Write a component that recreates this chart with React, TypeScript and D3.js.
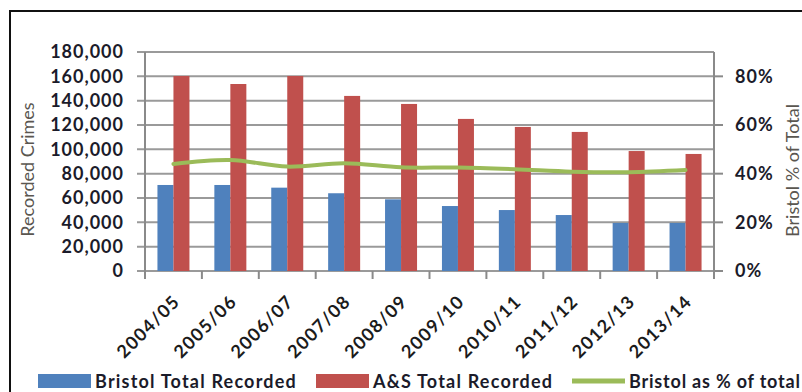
import React, { useEffect, useRef } from "react";
import * as d3 from "d3";

const years = [
  "2004/05", "2005/06", "2006/07", "2007/08", "2008/09",
  "2009/10", "2010/11", "2011/12", "2012/13", "2013/14",
];
const bristolTotal = [70700, 70700, 68500, 63900, 58900, 53400, 50100, 46000, 39500, 39500];
const asTotal = [160300, 153700, 160300, 143900, 137300, 125000, 118400, 114300, 98600, 96200];
const bristolPct = [0.44, 0.456, 0.429, 0.443, 0.426, 0.425, 0.418, 0.408, 0.406, 0.415];
const leftTicks = [0, 20000, 40000, 60000, 80000, 100000, 120000, 140000, 160000, 180000];
const rightTicks = [0, 0.2, 0.4, 0.6, 0.8];
const legendLabels = ["Bristol Total Recorded", "A&S Total Recorded", "Bristol as % of total"];

const BLUE = "#4f81bd";
const RED = "#c0504d";
const GREEN = "#9bbb59";
const FONT = "Lato, 'Open Sans', sans-serif";

const App: React.FC = () => {
  const svgRef = useRef<SVGSVGElement | null>(null);

  useEffect(() => {
    if (!svgRef.current) return;
    const width = 802;
    const height = 392;
    const m = { left: 145, right: 714, top: 52, bottom: 271 };

    d3.select(svgRef.current).selectAll("*").remove();
    const svg = d3.select(svgRef.current).attr("width", width).attr("height", height);

    // frame (runs off the right / bottom like the source)
    svg.append("rect")
      .attr("x", 10).attr("y", 11)
      .attr("width", 820).attr("height", 420)
      .attr("fill", "#fff").attr("stroke", "#111").attr("stroke-width", 2);

    const x = d3.scaleBand<string>().domain(years).range([m.left, m.right]);
    const y = d3.scaleLinear().domain([0, 180000]).range([m.bottom, m.top]);
    const y2 = d3.scaleLinear().domain([0, 0.9]).range([m.bottom, m.top]);

    /* grid */
    svg.append("g")
      .selectAll("line")
      .data(leftTicks)
      .enter()
      .append("line")
      .attr("x1", m.left - 8).attr("x2", m.right)
      .attr("y1", (d) => y(d)).attr("y2", (d) => y(d))
      .attr("stroke", "#9a9a9a").attr("stroke-width", 2);

    // axis lines
    [m.left, m.right].forEach((xx) => {
      svg.append("line")
        .attr("x1", xx).attr("x2", xx)
        .attr("y1", m.top).attr("y2", m.bottom)
        .attr("stroke", "#8a8a8a").attr("stroke-width", 2);
    });

    // category tick marks
    const bounds = years.map((yr) => x(yr)!).concat([m.right]);
    svg.append("g")
      .selectAll("line")
      .data(bounds)
      .enter()
      .append("line")
      .attr("x1", (d) => d).attr("x2", (d) => d)
      .attr("y1", m.bottom).attr("y2", m.bottom + 8)
      .attr("stroke", "#8a8a8a").attr("stroke-width", 2);

    // right tick marks
    svg.append("g")
      .selectAll("line")
      .data(rightTicks)
      .enter()
      .append("line")
      .attr("x1", m.right).attr("x2", m.right + 9)
      .attr("y1", (d) => y2(d)).attr("y2", (d) => y2(d))
      .attr("stroke", "#8a8a8a").attr("stroke-width", 2);

    /* bars */
    const bw = 16;
    const center = (yr: string) => x(yr)! + x.bandwidth() / 2;
    svg.append("g")
      .selectAll("rect")
      .data(years)
      .enter()
      .append("rect")
      .attr("x", (d) => center(d) - bw)
      .attr("y", (_, i) => y(bristolTotal[i]))
      .attr("width", bw)
      .attr("height", (_, i) => m.bottom - y(bristolTotal[i]))
      .attr("fill", BLUE);
    svg.append("g")
      .selectAll("rect")
      .data(years)
      .enter()
      .append("rect")
      .attr("x", (d) => center(d))
      .attr("y", (_, i) => y(asTotal[i]))
      .attr("width", bw)
      .attr("height", (_, i) => m.bottom - y(asTotal[i]))
      .attr("fill", RED);

    /* line */
    const line = d3
      .line<number>()
      .x((_, i) => center(years[i]))
      .y((d) => y2(d))
      .curve(d3.curveCatmullRom.alpha(0.5));
    svg.append("path")
      .attr("d", line(bristolPct))
      .attr("fill", "none")
      .attr("stroke", GREEN)
      .attr("stroke-width", 4)
      .attr("stroke-linecap", "round");

    /* tick labels */
    svg.append("g")
      .selectAll("text")
      .data(leftTicks)
      .enter()
      .append("text")
      .attr("x", 124).attr("y", (d) => y(d))
      .attr("dy", "0.36em")
      .attr("text-anchor", "end")
      .attr("font-family", FONT).attr("font-weight", "bold").attr("font-size", 18)
      .attr("letter-spacing", 1)
      .attr("fill", "#1b1b2a")
      .text((d) => d3.format(",")(d));

    svg.append("g")
      .selectAll("text")
      .data(rightTicks)
      .enter()
      .append("text")
      .attr("x", 735).attr("y", (d) => y2(d))
      .attr("dy", "0.36em")
      .attr("font-family", FONT).attr("font-weight", "bold").attr("font-size", 18)
      .attr("letter-spacing", 1)
      .attr("fill", "#1b1b2a")
      .text((d) => d3.format(".0%")(d));

    svg.append("g")
      .selectAll("text")
      .data(years)
      .enter()
      .append("text")
      .attr("transform", (d) => `translate(${center(d) + 3},${m.bottom + 27}) rotate(-45)`)
      .attr("text-anchor", "end")
      .attr("dy", "0.36em")
      .attr("font-family", FONT).attr("font-weight", "bold").attr("font-size", 18)
      .attr("letter-spacing", 1.3)
      .attr("fill", "#1b1b1b")
      .text((d) => d);

    // axis titles
    svg.append("text")
      .attr("transform", `translate(28,${(m.top + m.bottom) / 2 + 8}) rotate(-90)`)
      .attr("text-anchor", "middle").attr("dy", "0.36em")
      .attr("font-family", FONT).attr("font-size", 18)
      .attr("fill", "#5a5650")
      .text("Recorded Crimes");
    svg.append("text")
      .attr("transform", `translate(793,${(m.top + m.bottom) / 2 + 9}) rotate(-90)`)
      .attr("text-anchor", "middle").attr("dy", "0.36em")
      .attr("font-family", FONT).attr("font-size", 18)
      .attr("fill", "#5a5650")
      .text("Bristol % of Total");

    /* legend */
    const legendX = [38, 316, 572];
    const legendSpacing = [1.2, 1.2, 0.8];
    const legend = svg.append("g");
    legendLabels.forEach((label, i) => {
      if (i < 2) {
        legend.append("rect")
          .attr("x", legendX[i]).attr("y", 374)
          .attr("width", 53).attr("height", 14)
          .attr("fill", i === 0 ? BLUE : RED);
      } else {
        legend.append("line")
          .attr("x1", legendX[i]).attr("x2", legendX[i] + 53)
          .attr("y1", 381).attr("y2", 381)
          .attr("stroke", GREEN).attr("stroke-width", 5);
      }
      legend.append("text")
        .attr("x", legendX[i] + 57).attr("y", 382)
        .attr("dy", "0.36em")
        .attr("font-family", FONT).attr("font-weight", "bold").attr("font-size", 18)
        .attr("letter-spacing", legendSpacing[i])
        .attr("fill", "#1b1b2a")
        .text(label);
    });
  }, []);

  return (
    <svg
      ref={svgRef}
      style={{ position: "absolute", left: 0, top: 0, display: "block" }}
    />
  );
};

export default App;
